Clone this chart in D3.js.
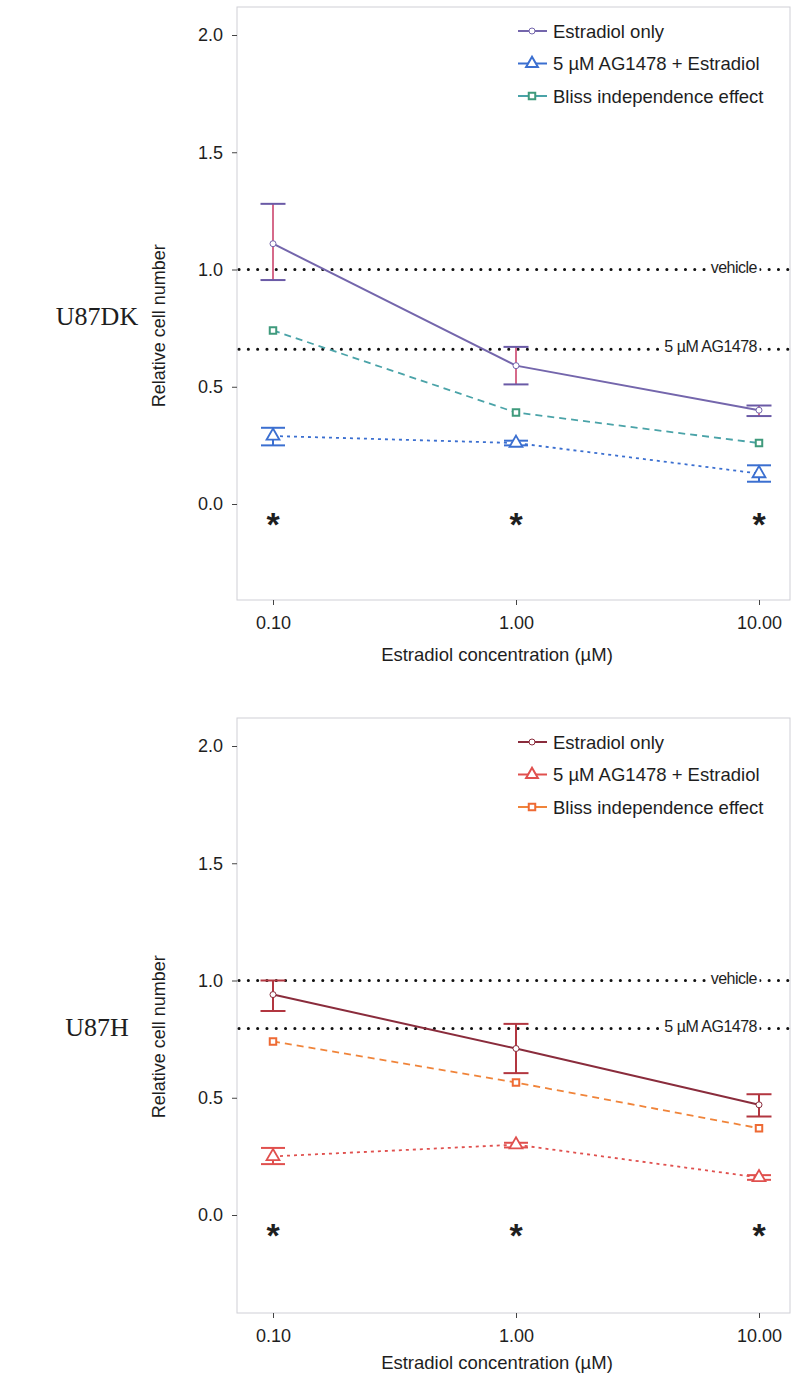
<!DOCTYPE html>
<html>
<head>
<meta charset="utf-8">
<script src="https://cdn.jsdelivr.net/npm/d3@7"></script>
<style>
  html, body { margin: 0; padding: 0; background: #fff; }
  svg { display: block; }
</style>
</head>
<body>
<svg id="chart" width="791" height="1376"></svg>
<script>
// Estradiol concentrations (µM) and tick labels
const concentrations = [0.1, 1, 10];
const xTickLabels = ["0.10", "1.00", "10.00"];
const yTicks = [0, 0.5, 1, 1.5, 2];
const seriesNames = ["Estradiol only", "5 µM AG1478 + Estradiol", "Bliss independence effect"];

// U87DK
const dkEstradiol = [1.11, 0.59, 0.40];
const dkEstradiolLow = [0.955, 0.51, 0.375];
const dkEstradiolHigh = [1.28, 0.67, 0.42];
const dkAG = [0.29, 0.26, 0.13];
const dkAGLow = [0.25, 0.25, 0.095];
const dkAGHigh = [0.325, 0.27, 0.165];
const dkBliss = [0.74, 0.39, 0.26];
const dkVehicle = 1.0;
const dkAGAlone = 0.66;

// U87H
const hEstradiol = [0.94, 0.71, 0.47];
const hEstradiolLow = [0.87, 0.605, 0.42];
const hEstradiolHigh = [1.0, 0.815, 0.515];
const hAG = [0.25, 0.30, 0.16];
const hAGLow = [0.217, 0.288, 0.15];
const hAGHigh = [0.286, 0.308, 0.17];
const hBliss = [0.74, 0.565, 0.37];
const hVehicle = 1.0;
const hAGAlone = 0.795;

const panels = [
  {
    name: "U87DK", top: 7, bottom: 600, y0: 504, y2: 35, titleGap: 61,
    est: dkEstradiol, estLo: dkEstradiolLow, estHi: dkEstradiolHigh,
    ag: dkAG, agLo: dkAGLow, agHi: dkAGHigh, bliss: dkBliss,
    vehicle: dkVehicle, agAlone: dkAGAlone,
    colEst: "#7466ac", colEstBar: "#6a5aa6", colEstStem: "#d66a8a",
    colAG: "#3b6fd0", colBliss: "#4aa3a8", colBlissMark: "#3f9a7c"
  },
  {
    name: "U87H", top: 718, bottom: 1313, y0: 1215, y2: 746, titleGap: 56,
    est: hEstradiol, estLo: hEstradiolLow, estHi: hEstradiolHigh,
    ag: hAG, agLo: hAGLow, agHi: hAGHigh, bliss: hBliss,
    vehicle: hVehicle, agAlone: hAGAlone,
    colEst: "#8a2c3c", colEstBar: "#b23640", colEstStem: "#b23640",
    colAG: "#e0504e", colBliss: "#f0843a", colBlissMark: "#ee6a34"
  }
];

const svg = d3.select("#chart");
const left = 237, right = 790;
const x = d3.scaleLog().domain([0.1, 10]).range([273, 759]);
const sansFont = "'Liberation Sans', Arial, Helvetica, sans-serif";
const ink = "#1e1e1e";

panels.forEach(p => {
  const y = d3.scaleLinear().domain([0, 2]).range([p.y0, p.y2]);
  const g = svg.append("g");

  // panel frame
  g.append("rect")
    .attr("x", left).attr("y", p.top)
    .attr("width", right - left).attr("height", p.bottom - p.top)
    .attr("fill", "none").attr("stroke", "#cfcfd6").attr("stroke-width", 1);

  // y axis
  const yAxis = d3.axisLeft(y).tickValues(yTicks).tickFormat(d3.format(".1f")).tickSize(5).tickPadding(9);
  const ya = g.append("g").attr("transform", `translate(${left},0)`).call(yAxis);
  ya.select(".domain").remove();
  ya.selectAll(".tick line").attr("stroke", "#444");
  ya.selectAll("text").attr("font-family", sansFont).attr("font-size", 18).attr("fill", ink);

  // x axis
  const xAxis = d3.axisBottom(x).tickValues(concentrations)
    .tickFormat((d, i) => xTickLabels[i]).tickSize(5).tickPadding(11);
  const xa = g.append("g").attr("transform", `translate(0,${p.bottom})`).call(xAxis);
  xa.select(".domain").remove();
  xa.selectAll(".tick line").attr("stroke", "#444");
  xa.selectAll("text").attr("font-family", sansFont).attr("font-size", 18).attr("fill", ink);

  // axis titles
  g.append("text")
    .attr("x", 497).attr("y", p.bottom + p.titleGap)
    .attr("text-anchor", "middle")
    .attr("font-family", sansFont).attr("font-size", 18.5).attr("fill", ink)
    .text("Estradiol concentration (µM)");
  g.append("text")
    .attr("transform", `translate(165,${y(0.76)}) rotate(-90)`)
    .attr("text-anchor", "middle")
    .attr("font-family", sansFont).attr("font-size", 18).attr("fill", ink)
    .text("Relative cell number");

  // cell line label
  g.append("text")
    .attr("x", 97).attr("y", y(0.8) + 9)
    .attr("text-anchor", "middle")
    .attr("font-family", "'Liberation Serif', 'Times New Roman', serif")
    .attr("font-size", 26).attr("fill", ink)
    .text(p.name);

  // reference lines with labels
  [[p.vehicle, "vehicle"], [p.agAlone, "5 µM AG1478"]].forEach(([v, label]) => {
    g.append("line")
      .attr("x1", left + 2).attr("x2", right)
      .attr("y1", y(v)).attr("y2", y(v))
      .attr("stroke", "#111").attr("stroke-width", 3)
      .attr("stroke-linecap", "round")
      .attr("stroke-dasharray", "0.1 9.2");
    const t = g.append("text")
      .attr("x", 757).attr("y", y(v) + 3)
      .attr("text-anchor", "end")
      .attr("font-family", sansFont).attr("font-size", 16).attr("fill", ink)
      .attr("letter-spacing", -0.5)
      .text(label);
    const bb = t.node().getBBox();
    g.insert("rect", () => t.node())
      .attr("x", bb.x - 2).attr("y", y(v) - 3)
      .attr("width", bb.width + 4).attr("height", 6)
      .attr("fill", "#fff");
  });

  const line = vals => d3.line().x((d, i) => x(concentrations[i])).y(d => y(d))(vals);

  // Bliss independence (dashed)
  g.append("path").attr("d", line(p.bliss))
    .attr("fill", "none").attr("stroke", p.colBliss).attr("stroke-width", 1.8)
    .attr("stroke-dasharray", "7 5");
  // AG1478 + Estradiol (dotted)
  g.append("path").attr("d", line(p.ag))
    .attr("fill", "none").attr("stroke", p.colAG).attr("stroke-width", 1.8)
    .attr("stroke-dasharray", "3 4");
  // Estradiol only (solid)
  g.append("path").attr("d", line(p.est))
    .attr("fill", "none").attr("stroke", p.colEst).attr("stroke-width", 2);

  // error bars
  const errorBars = (lo, hi, capCol, stemCol, capW) => {
    concentrations.forEach((c, i) => {
      const cx = x(c);
      g.append("line").attr("x1", cx).attr("x2", cx)
        .attr("y1", y(lo[i])).attr("y2", y(hi[i]))
        .attr("stroke", stemCol).attr("stroke-width", 2);
      [lo[i], hi[i]].forEach(v => {
        g.append("line").attr("x1", cx - capW / 2).attr("x2", cx + capW / 2)
          .attr("y1", y(v)).attr("y2", y(v))
          .attr("stroke", capCol).attr("stroke-width", 2);
      });
    });
  };
  errorBars(p.agLo, p.agHi, p.colAG, p.colAG, 24);
  errorBars(p.estLo, p.estHi, p.colEstBar, p.colEstStem, 25);

  // markers
  const sym = (type, size) => d3.symbol().type(type).size(size)();
  concentrations.forEach((c, i) => {
    g.append("path").attr("d", sym(d3.symbolSquare, 42))
      .attr("transform", `translate(${x(c)},${y(p.bliss[i])})`)
      .attr("fill", "#fff").attr("stroke", p.colBlissMark).attr("stroke-width", 2);
    g.append("path").attr("d", sym(d3.symbolTriangle, 72))
      .attr("transform", `translate(${x(c)},${y(p.ag[i])})`)
      .attr("fill", "#fff").attr("stroke", p.colAG).attr("stroke-width", 1.8);
    g.append("circle").attr("cx", x(c)).attr("cy", y(p.est[i])).attr("r", 3)
      .attr("fill", "#fff").attr("stroke", p.colEst).attr("stroke-width", 1);
  });

  // significance markers
  concentrations.forEach(c => {
    g.append("text").attr("x", x(c)).attr("y", y(-0.05) + 20)
      .attr("text-anchor", "middle")
      .attr("font-family", sansFont).attr("font-size", 34).attr("font-weight", "bold")
      .attr("fill", ink).text("*");
  });

  // legend
  const legTypes = ["circle", d3.symbolTriangle, d3.symbolSquare];
  const legCols = [p.colEst, p.colAG, p.colBlissMark];
  const legLineCols = [p.colEst, p.colAG, p.colBliss];
  seriesNames.forEach((name, i) => {
    const ly = p.top + 24 + i * 32.5;
    g.append("line").attr("x1", 518).attr("x2", 547).attr("y1", ly).attr("y2", ly)
      .attr("stroke", legLineCols[i]).attr("stroke-width", 2);
    if (i === 0) {
      g.append("circle").attr("cx", 532).attr("cy", ly).attr("r", 3)
        .attr("fill", "#fff").attr("stroke", legCols[i]).attr("stroke-width", 1);
    } else {
      g.append("path").attr("d", sym(legTypes[i], i === 1 ? 60 : 42))
        .attr("transform", `translate(532,${ly})`)
        .attr("fill", "#fff").attr("stroke", legCols[i]).attr("stroke-width", 2);
    }
    g.append("text").attr("x", 553).attr("y", ly + 6.5)
      .attr("font-family", sansFont).attr("font-size", 18.5).attr("fill", ink)
      .text(name);
  });
});
</script>
</body>
</html>
